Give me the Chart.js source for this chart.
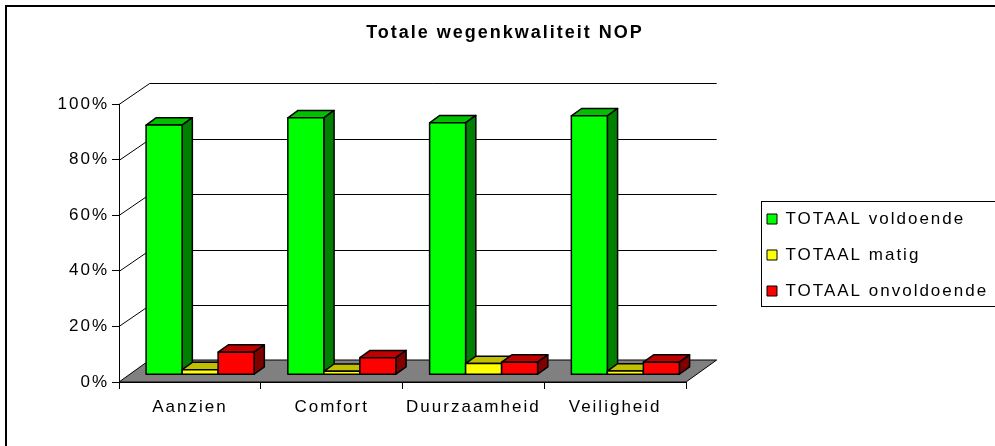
<!DOCTYPE html>
<html>
<head>
<meta charset="utf-8">
<script src="https://cdn.jsdelivr.net/npm/chart.js@4/dist/chart.umd.min.js"></script>
<style>
  html, body { margin: 0; padding: 0; background: #fff; }
  canvas { display: block; }
</style>
</head>
<body>
<canvas id="chart" width="995" height="446"></canvas>
<script>
const categories = ["Aanzien", "Comfort", "Duurzaamheid", "Veiligheid"];
const seriesNames = ["TOTAAL voldoende", "TOTAAL matig", "TOTAAL onvoldoende"];
const voldoende = [89.8, 92.4, 90.6, 93.1];
const matig = [1.8, 1.2, 4.0, 1.3];
const onvoldoende = [8.1, 6.1, 4.5, 4.5];
const yTicks = [0, 20, 40, 60, 80, 100];

// front, top, side per serie
const faceColors = [
  ["#00ff00", "#00c000", "#008000"],
  ["#ffff00", "#c0c000", "#808000"],
  ["#ff0000", "#c00000", "#800000"]
];

const DEPTH_X = 30.7, DEPTH_Y = -22; // diepte van de vloer
const FONT = "'Liberation Sans', Arial, sans-serif";

function poly(ctx, pts, fill) {
  ctx.beginPath();
  ctx.moveTo(pts[0][0], pts[0][1]);
  for (let i = 1; i < pts.length; i++) ctx.lineTo(pts[i][0], pts[i][1]);
  ctx.closePath();
  ctx.fillStyle = fill;
  ctx.fill();
  ctx.stroke();
}

const box3d = {
  id: "box3d",
  afterUpdate(chart) {
    // legenda naar de plek uit het origineel
    const lg = chart.legend;
    lg.left = 748;
    lg.top = 191.5;
    lg.right = 995;
    lg.width = lg.right - lg.left;
    lg.bottom = lg.top + 300;
    lg.height = 300;
  },
  beforeDraw(chart) {
    const ctx = chart.ctx;
    ctx.letterSpacing = "2px";

    ctx.save();
    ctx.strokeStyle = "#000";
    ctx.lineWidth = 2;
    ctx.strokeRect(6, 6, 1100, 600);
    ctx.restore();

    const { left, right } = chart.chartArea;
    const y = chart.scales.y;
    const b = y.getPixelForValue(0);

    ctx.save();
    ctx.lineWidth = 1;
    ctx.strokeStyle = "#000";
    yTicks.forEach(t => {
      if (t === 0) return;
      const py = Math.round(y.getPixelForValue(t)) + 0.5;
      const by = Math.round(py + DEPTH_Y) + 0.5;
      ctx.beginPath();
      ctx.moveTo(left, py);
      ctx.lineTo(left + DEPTH_X, by);
      ctx.lineTo(right + DEPTH_X, by);
      ctx.stroke();
    });
    // vloer
    poly(ctx, [[left, b], [right, b], [right + DEPTH_X, b + DEPTH_Y], [left + DEPTH_X, b + DEPTH_Y]], "#808080");
    ctx.restore();
  },
  beforeDatasetsDraw(chart) {
    const ctx = chart.ctx;
    const sx = DEPTH_X / 3, sy = DEPTH_Y / 3;
    ctx.save();
    ctx.lineWidth = 1.5;
    ctx.strokeStyle = "#000";
    ctx.lineJoin = "round";
    chart.data.datasets.forEach((ds, di) => {
      const meta = chart.getDatasetMeta(di);
      const [front, top, side] = faceColors[di];
      meta.data.forEach(bar => {
        const { x, y, base, width } = bar.getProps(["x", "y", "base", "width"], true);
        const x0 = x - width / 2 + sx, x1 = x + width / 2 + sx;
        const yt = y + sy, yb = base + sy;
        poly(ctx, [[x0, yt], [x1, yt], [x1 + sx, yt + sy], [x0 + sx, yt + sy]], top);
        poly(ctx, [[x1, yt], [x1 + sx, yt + sy], [x1 + sx, yb + sy], [x1, yb]], side);
        poly(ctx, [[x0, yt], [x1, yt], [x1, yb], [x0, yb]], front);
      });
    });
    ctx.restore();
    return false;
  },
  afterDraw(chart) {
    const ctx = chart.ctx;
    ctx.save();
    ctx.strokeStyle = "#000";
    ctx.lineWidth = 1;
    ctx.strokeRect(761.5, 201.5, 400, 105);
    ctx.restore();
  }
};

new Chart(document.getElementById("chart"), {
  type: "bar",
  data: {
    labels: categories,
    datasets: [voldoende, matig, onvoldoende].map((d, i) => ({
      label: seriesNames[i],
      data: d,
      backgroundColor: faceColors[i][0],
      borderColor: "#000",
      borderWidth: 1
    }))
  },
  options: {
    responsive: false,
    animation: false,
    devicePixelRatio: 1,
    layout: { padding: { left: 15, right: 0, top: 0, bottom: 0 } },
    datasets: { bar: { categoryPercentage: 0.762, barPercentage: 1 } },
    scales: {
      x: {
        afterFit(s) { s.height = 64; },
        grid: { drawOnChartArea: false, drawTicks: true, tickLength: 7, color: "#000", offset: true },
        border: { display: true, color: "#000", width: 1 },
        ticks: { color: "#000", padding: 8, font: { size: 17, family: FONT } }
      },
      y: {
        min: 0,
        max: 100,
        afterFit(s) { s.width = 104; },
        grid: { drawOnChartArea: false, drawTicks: true, tickLength: 7, color: "#000" },
        border: { display: true, color: "#000", width: 1 },
        ticks: {
          stepSize: 20,
          color: "#000",
          padding: 3,
          font: { size: 17, family: FONT },
          callback: v => v + "%"
        }
      },
      y2: {
        position: "right",
        afterFit(s) { s.width = 309; },
        grid: { display: false },
        border: { display: false },
        ticks: { display: false }
      }
    },
    plugins: {
      title: {
        display: true,
        text: "Totale wegenkwaliteit NOP",
        color: "#000",
        font: { size: 18, weight: "bold", family: FONT },
        padding: { top: 22.2, bottom: 60.2 }
      },
      legend: {
        position: "chartArea",
        align: "start",
        labels: {
          boxWidth: 10,
          boxHeight: 10,
          padding: 19,
          color: "#000",
          font: { size: 17, family: FONT }
        }
      },
      tooltip: { enabled: false }
    }
  },
  plugins: [box3d]
});
</script>
</body>
</html>
